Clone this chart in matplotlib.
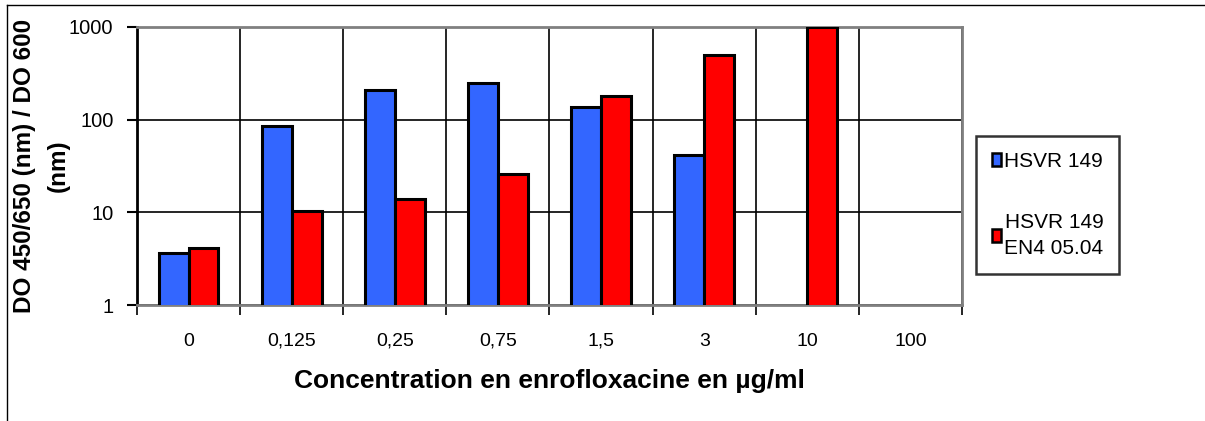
import matplotlib
matplotlib.use('Agg')
import matplotlib.pyplot as plt
import numpy as np
from matplotlib.patches import Patch
from matplotlib.lines import Line2D
from matplotlib.ticker import FixedLocator, NullFormatter

plt.rcParams['font.family'] = ['Liberation Sans', 'DejaVu Sans']

# Données
concentrations = ['0', '0,125', '0,25', '0,75', '1,5', '3', '10', '100']
hsvr149 = [3.6, 86, 210, 250, 138, 42, np.nan, np.nan]
hsvr149_en4 = [4.1, 10.3, 14, 26, 182, 500, 990, np.nan]
series_labels = ['HSVR 149', 'HSVR 149\nEN4 05.04']
colors = ['#3366FF', '#FF0000']

fig = plt.figure(figsize=(12.05, 4.21), dpi=100)
ax = fig.add_axes([0.1137, 0.2755, 0.6846, 0.6605])

x = np.arange(len(concentrations))
w = 0.29
ax.bar(x - w / 2, hsvr149, w, color=colors[0], edgecolor='black', linewidth=2.2, zorder=3)
ax.bar(x + w / 2, hsvr149_en4, w, color=colors[1], edgecolor='black', linewidth=2.2, zorder=3)

ax.set_yscale('log')
ax.set_ylim(1, 1000)
ax.set_xlim(-0.5, len(concentrations) - 0.5)
ax.set_yticks([1, 10, 100, 1000])
ax.set_yticklabels(['1', '10', '100', '1000'], fontsize=14.5)
ax.yaxis.set_minor_locator(FixedLocator([]))
ax.tick_params(axis='y', direction='out', length=7, width=1.5, pad=10)

# ticks aux limites des groupes, étiquettes au centre
ax.set_xticks(np.arange(-0.5, len(concentrations), 1.0))
ax.xaxis.set_major_formatter(NullFormatter())
ax.set_xticks(x, minor=True)
ax.set_xticklabels(concentrations, minor=True, fontsize=14)
ax.tick_params(axis='x', which='major', direction='out', length=7, width=1.2)
ax.tick_params(axis='x', which='minor', length=0, pad=20)

ax.grid(True, which='major', color='black', linewidth=1.2, zorder=0)

for side in ['top', 'right', 'bottom']:
    ax.spines[side].set_color('#808080')
    ax.spines[side].set_linewidth(2)
ax.spines['left'].set_color('black')
ax.spines['left'].set_linewidth(2)

ax.set_xlabel('Concentration en enrofloxacine en µg/ml', fontsize=19, fontweight='bold', labelpad=14)
ax.set_ylabel('DO 450/650 (nm) / DO 600\n(nm)', fontsize=17.5, fontweight='bold', linespacing=1.6)
ax.yaxis.set_label_coords(-0.082, 0.5)

handles = [Patch(facecolor=c, edgecolor='black', linewidth=1.8) for c in colors]
leg = fig.legend(handles, series_labels, loc='center left', bbox_to_anchor=(0.81, 0.513),
                 fontsize=15, frameon=True, fancybox=False, edgecolor='black',
                 handlelength=0.45, handleheight=0.6, handletextpad=0.15,
                 labelspacing=2.0, borderpad=0.75, borderaxespad=0)
leg.get_frame().set_linewidth(1.8)
for t in leg.get_texts():
    t.set_multialignment('right')
    t.set_linespacing(1.5)

# cadre extérieur
fig.add_artist(Line2D([7 / 1205, 1], [1 - 5 / 421, 1 - 5 / 421], color='black', linewidth=1))
fig.add_artist(Line2D([7 / 1205, 7 / 1205], [0, 1 - 5 / 421], color='black', linewidth=1))

fig.savefig('out.png', dpi=100)
